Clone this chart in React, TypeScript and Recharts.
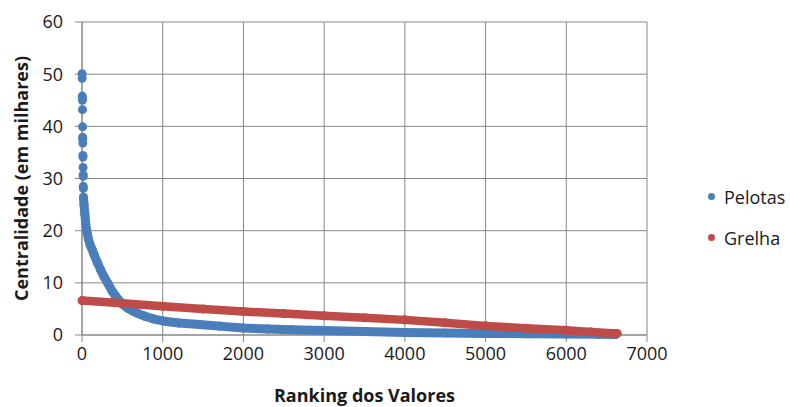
import React from 'react';
import { ScatterChart, Scatter, XAxis, YAxis, ZAxis, CartesianGrid, Legend, Label } from 'recharts';

const FONT = '"Open Sans", "Liberation Sans", sans-serif';
const BLUE = '#4A7EBB';
const RED = '#BE4B48';
const GRID = '#868686';
const TEXT = '#1a1a1a';

const xTicks = [0, 1000, 2000, 3000, 4000, 5000, 6000, 7000];
const yTicks = [0, 10, 20, 30, 40, 50, 60];
const legendOrder = ['Pelotas', 'Grelha'];

// Pelotas: isolated top values (highest ranks)
const pelotasTopRanks = [1, 2, 3, 4, 5, 6, 7, 8, 9, 10, 11, 12, 13, 14, 15, 16, 17];
const pelotasTopValues = [50.1, 49.2, 45.8, 45.4, 45.0, 43.2, 39.9, 37.9, 37.6, 36.8, 34.4, 34.1, 32.1, 30.7, 30.4, 28.5, 28.1];

// Pelotas: dense part of the ranking
const pelotasRanks = [18, 25, 35, 45, 58, 80, 100, 125, 150, 190, 230, 275, 320, 370, 410, 455, 510, 570, 630, 690, 780, 880, 1000, 1200, 1460, 1700, 2000, 2300, 2600, 3000, 3500, 4000, 4500, 5000, 5500, 6000, 6400, 6610];
const pelotasValues = [26.4, 25.0, 23.2, 21.5, 20.0, 18.4, 17.3, 16.4, 15.4, 13.9, 12.5, 11.1, 9.9, 8.5, 7.6, 6.7, 5.8, 5.1, 4.6, 4.15, 3.6, 3.1, 2.7, 2.3, 2.0, 1.7, 1.35, 1.15, 1.0, 0.85, 0.65, 0.5, 0.4, 0.3, 0.25, 0.2, 0.15, 0.1];

// Grelha
const grelhaRanks = [1, 500, 1000, 1500, 2000, 2500, 3000, 3500, 4000, 4500, 5000, 5500, 6000, 6300, 6630];
const grelhaValues = [6.6, 6.1, 5.5, 5.0, 4.5, 4.1, 3.7, 3.3, 2.9, 2.35, 1.75, 1.3, 0.9, 0.6, 0.3];

const toPoints = (xs: number[], ys: number[]) => xs.map((x, i) => ({ x, y: ys[i] }));

const pelotasTop = toPoints(pelotasTopRanks, pelotasTopValues);
const pelotas = toPoints(pelotasRanks, pelotasValues);
const grelha = toPoints(grelhaRanks, grelhaValues);

const renderLegend = (props: any) => {
  const payload = (props.payload || [])
    .filter((p: any) => legendOrder.indexOf(p.value) >= 0)
    .sort((a: any, b: any) => legendOrder.indexOf(a.value) - legendOrder.indexOf(b.value));
  return (
    <div style={{ fontFamily: FONT, fontSize: 18, color: TEXT }}>
      {payload.map((entry: any) => (
        <div key={entry.value} style={{ display: 'flex', alignItems: 'center', height: 41 }}>
          <span
            style={{
              display: 'inline-block',
              width: 7,
              height: 7,
              borderRadius: '50%',
              background: entry.color,
              marginRight: 9,
            }}
          />
          <span>{entry.value}</span>
        </div>
      ))}
    </div>
  );
};

export default function App() {
  return (
    <div style={{ position: 'absolute', left: 0, top: 0, width: 790, height: 407, background: '#fff' }}>
      <ScatterChart
        width={790}
        height={407}
        margin={{ top: 22, right: 143, bottom: 0, left: 0 }}
        style={{ fontFamily: FONT }}
      >
        <CartesianGrid stroke={GRID} strokeWidth={1} />
        <XAxis
          type="number"
          dataKey="x"
          domain={[0, 7000]}
          ticks={xTicks}
          interval={0}
          height={72}
          tickSize={7}
          tickMargin={5}
          stroke={GRID}
          tick={{ fontSize: 18, fill: TEXT, fontFamily: FONT }}
        >
          <Label
            value="Ranking dos Valores"
            position="insideBottom"
            offset={5}
            style={{ fontSize: 18, fontWeight: 700, fill: TEXT, fontFamily: FONT }}
          />
        </XAxis>
        <YAxis
          type="number"
          dataKey="y"
          domain={[0, 60]}
          ticks={yTicks}
          interval={0}
          width={82}
          tickSize={7}
          tickMargin={12}
          stroke={GRID}
          tick={{ fontSize: 18, fill: TEXT, fontFamily: FONT }}
        >
          <Label
            value="Centralidade (em milhares)"
            position="insideLeft"
            angle={-90}
            offset={22}
            style={{ fontSize: 18, fontWeight: 700, fill: TEXT, fontFamily: FONT, textAnchor: 'middle' }}
          />
        </YAxis>
        <ZAxis range={[60, 60]} />
        <Legend
          layout="vertical"
          align="center"
          verticalAlign="middle"
          wrapperStyle={{ left: 708, top: 176, width: 'auto' }}
          content={renderLegend}
        />
        <Scatter
          name="PelotasTop"
          data={pelotasTop}
          fill={BLUE}
          shape="circle"
          legendType="none"
          isAnimationActive={false}
        />
        <Scatter
          name="Pelotas"
          data={pelotas}
          fill={BLUE}
          shape="circle"
          line={{ stroke: BLUE, strokeWidth: 9, strokeLinecap: 'round', strokeLinejoin: 'round' }}
          lineType="joint"
          lineJointType="linear"
          isAnimationActive={false}
        />
        <Scatter
          name="Grelha"
          data={grelha}
          fill={RED}
          shape="circle"
          line={{ stroke: RED, strokeWidth: 8.5, strokeLinecap: 'round', strokeLinejoin: 'round' }}
          lineType="joint"
          lineJointType="linear"
          isAnimationActive={false}
        />
      </ScatterChart>
    </div>
  );
}
